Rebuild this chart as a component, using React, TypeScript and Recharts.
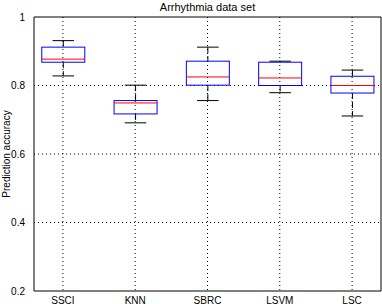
import React from 'react';
import { ComposedChart, Bar, XAxis, YAxis, CartesianGrid, ReferenceLine } from 'recharts';

// Box statistics (prediction accuracy per method)
const categories = ['SSCI', 'KNN', 'SBRC', 'LSVM', 'LSC'];
const whiskerMax = [0.931, 0.801, 0.912, 0.871, 0.845];
const upperQuartile = [0.912, 0.756, 0.871, 0.868, 0.827];
const medians = [0.877, 0.749, 0.825, 0.822, 0.8];
const lowerQuartile = [0.868, 0.717, 0.801, 0.8, 0.778];
const whiskerMin = [0.828, 0.691, 0.756, 0.779, 0.711];
const yTicks = [0.2, 0.4, 0.6, 0.8, 1];

const data = categories.map((name, i) => ({
  pos: i + 1,
  name,
  range: [whiskerMin[i], whiskerMax[i]],
  max: whiskerMax[i],
  q3: upperQuartile[i],
  med: medians[i],
  q1: lowerQuartile[i],
  min: whiskerMin[i],
}));

const font = 'Liberation Sans, Arial, Helvetica, sans-serif';
const tickStyle = { fontSize: 10, fill: '#000', fontFamily: font };

function BoxShape(props: any) {
  const { x, y, width, height, payload } = props;
  const { max, q3, med, q1, min } = payload;
  // map a value inside [min, max] onto the pixel span Recharts gave the bar
  const py = (v: number) => y + (height * (max - v)) / (max - min);
  const cx = x + width / 2;
  const cap = width / 4;
  return (
    <g>
      <line x1={cx} x2={cx} y1={py(max)} y2={py(q3)} stroke="#000" strokeDasharray="6 3" />
      <line x1={cx} x2={cx} y1={py(q1)} y2={py(min)} stroke="#000" strokeDasharray="6 3" />
      <line x1={cx - cap} x2={cx + cap} y1={py(max)} y2={py(max)} stroke="#000" />
      <line x1={cx - cap} x2={cx + cap} y1={py(min)} y2={py(min)} stroke="#000" />
      <rect x={x} y={py(q3)} width={width} height={py(q1) - py(q3)} fill="none" stroke="#0000ff" />
      <line x1={x} x2={x + width} y1={py(med)} y2={py(med)} stroke="#ff0000" />
    </g>
  );
}

export default function App() {
  return (
    <div style={{ position: 'absolute', left: 0, top: 0, width: 382, height: 304, background: '#fff' }}>
      <div
        style={{
          position: 'absolute',
          left: 34,
          width: 347,
          top: 0,
          textAlign: 'center',
          fontFamily: font,
          fontSize: 11,
          lineHeight: '14px',
          color: '#000',
        }}
      >
        Arrhythmia data set
      </div>
      <ComposedChart
        width={382}
        height={304}
        data={data}
        margin={{ top: 17, right: 1, bottom: 0, left: 0 }}
      >
        <CartesianGrid stroke="#000" strokeDasharray="1 3" horizontalValues={[0.4, 0.6, 0.8]} verticalValues={[1, 2, 3, 4, 5]} />
        <XAxis
          dataKey="pos"
          type="number"
          domain={[0.6, 5.4]}
          ticks={[1, 2, 3, 4, 5]}
          tickFormatter={(v: number) => categories[v - 1]}
          tick={tickStyle}
          tickLine={false}
          tickMargin={0}
          height={13}
          axisLine={{ stroke: '#000' }}
        />
        <YAxis
          type="number"
          domain={[0.2, 1]}
          ticks={yTicks}
          tickFormatter={(v: number) => String(v)}
          tick={tickStyle}
          tickLine={false}
          tickMargin={3}
          width={34}
          axisLine={{ stroke: '#000' }}
          label={{ value: 'Prediction accuracy', angle: -90, position: 'center', dx: -11, fontSize: 10, fill: '#000', fontFamily: font }}
        />
        <ReferenceLine y={1} stroke="#000" />
        <ReferenceLine x={5.4} stroke="#000" />
        <Bar dataKey="range" barSize={43} shape={BoxShape} isAnimationActive={false} />
      </ComposedChart>
    </div>
  );
}
